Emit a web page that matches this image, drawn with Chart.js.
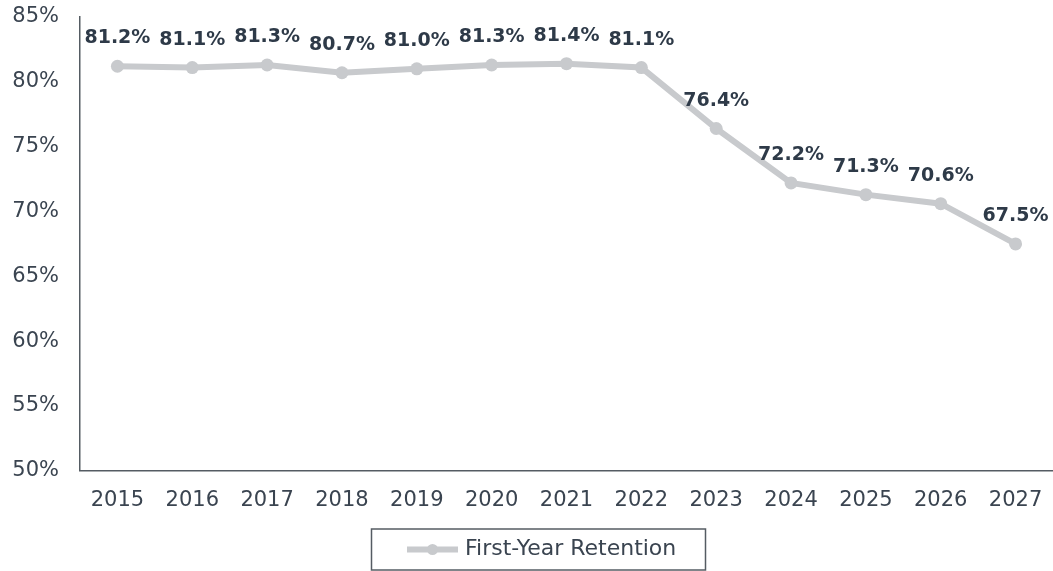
<!DOCTYPE html>
<html>
<head>
<meta charset="utf-8">
<script src="https://cdn.jsdelivr.net/npm/chart.js@4"></script>
<style>
  html, body { margin: 0; padding: 0; background: #fff; }
  #wrap { width: 1053px; height: 571px; }
</style>
</head>
<body>
<div id="wrap"><canvas id="retentionChart" width="1053" height="571"></canvas></div>
<script>
const years = ['2015', '2016', '2017', '2018', '2019', '2020', '2021', '2022', '2023', '2024', '2025', '2026', '2027'];
const retention = [81.2, 81.1, 81.3, 80.7, 81.0, 81.3, 81.4, 81.1, 76.4, 72.2, 71.3, 70.6, 67.5];
const seriesName = 'First-Year Retention';

const textColor = '#3a4450';
const lineColor = '#c8cacd';
const axisColor = '#555c63';

// value labels above each point
const valueLabels = {
  id: 'valueLabels',
  afterDatasetsDraw(chart) {
    const ctx = chart.ctx;
    const meta = chart.getDatasetMeta(0);
    ctx.save();
    ctx.font = 'bold 19px "DejaVu Sans"';
    ctx.fillStyle = '#2e3a48';
    ctx.textAlign = 'center';
    ctx.textBaseline = 'alphabetic';
    meta.data.forEach((pt, i) => {
      ctx.fillText(retention[i].toFixed(1) + '%', pt.x, pt.y - 23);
    });
    ctx.restore();
  }
};

// boxed legend at the bottom
const boxLegend = {
  id: 'boxLegend',
  afterDraw(chart) {
    const ctx = chart.ctx;
    ctx.save();
    ctx.strokeStyle = axisColor;
    ctx.lineWidth = 1.5;
    ctx.strokeRect(371.5, 529, 334, 41);
    const cy = 549.5;
    ctx.strokeStyle = lineColor;
    ctx.lineWidth = 6;
    ctx.beginPath();
    ctx.moveTo(407, cy);
    ctx.lineTo(458, cy);
    ctx.stroke();
    ctx.fillStyle = lineColor;
    ctx.beginPath();
    ctx.arc(432.5, cy, 5.5, 0, Math.PI * 2);
    ctx.fill();
    ctx.font = '22px "DejaVu Sans"';
    ctx.fillStyle = textColor;
    ctx.textAlign = 'left';
    ctx.textBaseline = 'middle';
    ctx.fillText(seriesName, 465, cy);
    ctx.restore();
  }
};

new Chart(document.getElementById('retentionChart'), {
  type: 'line',
  data: {
    labels: years,
    datasets: [{
      label: seriesName,
      data: retention,
      borderColor: lineColor,
      backgroundColor: lineColor,
      borderWidth: 6,
      pointRadius: 6.5,
      pointHoverRadius: 6.5,
      pointBackgroundColor: lineColor,
      pointBorderWidth: 0,
      tension: 0,
      fill: false
    }]
  },
  options: {
    responsive: false,
    animation: false,
    layout: { autoPadding: false, padding: { top: 17, right: 0, bottom: 41, left: 0 } },
    plugins: {
      legend: { display: false },
      tooltip: { enabled: false }
    },
    scales: {
      x: {
        offset: true,
        afterFit(scale) { scale.paddingLeft = 0; scale.paddingRight = 0; },
        grid: { display: false, drawTicks: false },
        border: { color: axisColor, width: 1.5 },
        ticks: {
          color: textColor,
          font: { family: 'DejaVu Sans', size: 21 },
          padding: 17,
          maxRotation: 0
        }
      },
      y: {
        min: 50,
        max: 85,
        afterFit(scale) { scale.width = 80; scale.paddingTop = 0; scale.paddingBottom = 0; },
        grid: { display: false, drawTicks: false },
        border: { color: axisColor, width: 1.5 },
        ticks: {
          stepSize: 5,
          color: textColor,
          font: { family: 'DejaVu Sans', size: 21 },
          padding: 21,
          callback: v => v + '%'
        }
      }
    }
  },
  plugins: [valueLabels, boxLegend]
});
</script>
</body>
</html>
